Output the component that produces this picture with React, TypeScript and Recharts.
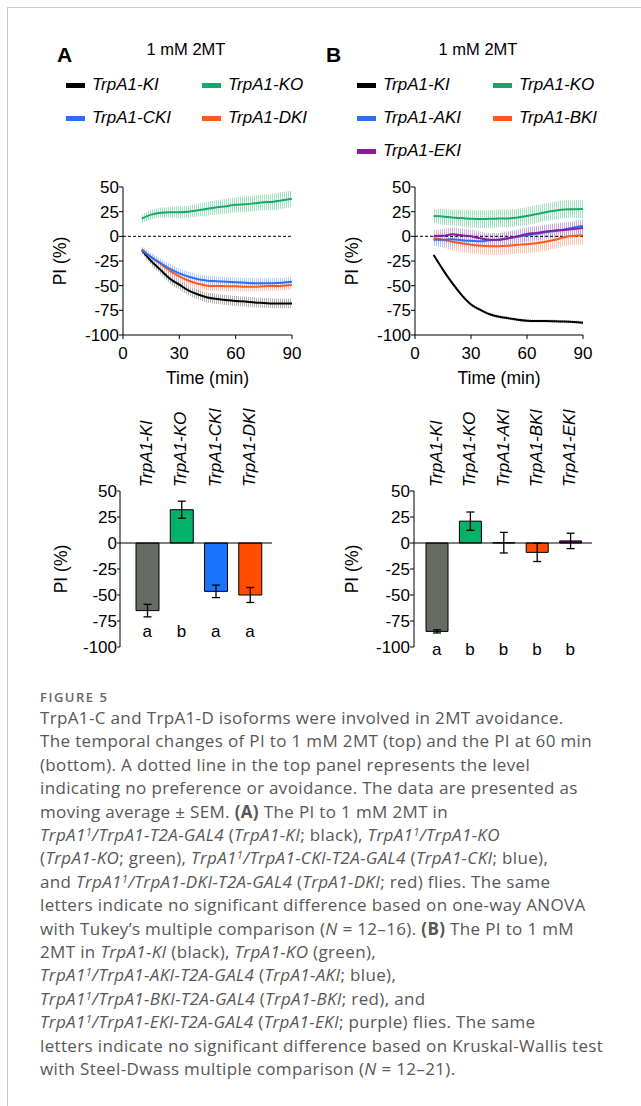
import React from 'react';
import {
  ComposedChart, Line, Area, XAxis, YAxis, ReferenceLine, Bar, ErrorBar, Cell, Label,
} from 'recharts';

// ---------- time-course data (moving average ± SEM) ----------
const TIMES = [10, 15, 20, 25, 30, 35, 40, 45, 50, 55, 60, 65, 70, 75, 80, 85, 90];

const A_KI = [-14, -25, -34, -43, -49, -55, -59, -62, -63.5, -64.5, -65.5, -66, -67, -67.5, -68, -68, -68];
const A_KI_SEM = [3, 4, 4.5, 5, 5, 5, 5, 5, 5, 5, 5, 5, 5, 5, 5, 5, 5];
const A_KO = [18, 22, 24, 24.5, 24.5, 25, 26.5, 28, 29.5, 30.5, 32, 32.5, 33.5, 34.5, 35, 36.5, 38];
const A_KO_SEM = [4, 5, 5, 5.5, 6, 6, 6.5, 7, 7, 7.5, 7.5, 8, 8, 8, 8.5, 8.5, 8.5];
const A_CKI = [-14, -21, -27, -33, -37.5, -41, -43.5, -45, -45.5, -46, -46.5, -47, -47.5, -47.5, -47.5, -47, -46];
const A_CKI_SEM = [3, 4, 4.5, 5, 5, 5, 5, 5, 5, 5, 5, 5, 5, 5, 5, 5, 5];
const A_DKI = [-13, -21, -28, -35, -40.5, -45, -48, -50, -50.3, -50.5, -50.7, -51, -51, -50.5, -50.3, -50, -49];
const A_DKI_SEM = [3, 4, 4.5, 5, 5, 5, 5, 5, 5, 5, 5, 5, 5, 5, 5, 5, 5];

const B_KI = [-19, -34, -47.5, -59.5, -69, -74.5, -79, -81.5, -83, -84.5, -85.5, -85.8, -85.8, -86, -86.3, -86.8, -87.5];
const B_KI_SEM = [1.5, 1.5, 1.5, 1.5, 1.5, 1.5, 1.5, 1.5, 1.5, 1.5, 1.5, 1.5, 1.5, 1.5, 1.5, 1.5, 1.5];
const B_KO = [20.5, 20, 19, 18.5, 17.8, 17.5, 17.8, 18, 18.2, 19, 20.5, 22.5, 24.5, 26, 27.3, 27.5, 27.7];
const B_KO_SEM = [7, 8, 8, 8.5, 9, 9, 9, 9, 9, 9, 9, 9, 9, 9, 9, 9, 9];
const B_AKI = [-3.5, -3.5, -3, -4, -4.5, -5, -4, -3.5, -2, -0.5, 1, 2.5, 4, 5.5, 7, 9, 10.5];
const B_AKI_SEM = [6, 7, 7, 7, 7, 7, 7, 7, 7, 7, 7, 7, 7, 7, 7, 7, 7];
const B_BKI = [-2, -3.5, -5.5, -7, -8.5, -9.5, -10, -10, -9.5, -8.5, -8, -7, -5.5, -3.5, -1, 0.5, 1];
const B_BKI_SEM = [6, 8, 8.5, 9, 9, 9, 9, 9, 9, 9, 9, 9, 9, 9, 9, 9, 9];
const B_EKI = [0.3, 0.5, 2, 1, 0, -2, -3.5, -3.5, -2, 0, 2.5, 3.5, 5, 6, 6.5, 7.5, 8.5];
const B_EKI_SEM = [6, 7, 7, 7, 7, 7, 7, 7, 7, 7, 7, 7, 7, 7, 7, 7, 7];

const Y_TICKS = [-100, -75, -50, -25, 0, 25, 50];
const X_TICKS = [0, 30, 60, 90];

// ---------- PI at 60 min ----------
const BAR_A_CATS = ['TrpA1-KI', 'TrpA1-KO', 'TrpA1-CKI', 'TrpA1-DKI'];
const BAR_A_VALS = [-65, 32, -46.5, -50];
const BAR_A_SEM = [6, 8.2, 6, 7.2];
const BAR_A_LETTERS = ['a', 'b', 'a', 'a'];

const BAR_B_CATS = ['TrpA1-KI', 'TrpA1-KO', 'TrpA1-AKI', 'TrpA1-BKI', 'TrpA1-EKI'];
const BAR_B_VALS = [-85, 21, 0.3, -9, 2];
const BAR_B_SEM = [1.5, 8.8, 9.9, 8.8, 7.4];
const BAR_B_LETTERS = ['a', 'b', 'b', 'b', 'b'];

// ---------- styles ----------
const FONT = '"Liberation Sans", Arial, Helvetica, sans-serif';
const TICK_FS = 17;
const C = {
  ki: '#000000', kiBand: '#9a9a9a', kiBar: '#666b63',
  ko: '#14a96b', koBand: '#86d9b3', koBar: '#00b26a',
  blue: '#2a70f5', blueBand: '#9fc0ff', blueBar: '#1a73ff',
  red: '#ff5a1c', redBand: '#ffb497', redBar: '#ff4d00',
  purple: '#8a1a99', purpleBand: '#cf9ed8', purpleBar: '#7d0c7d',
};
const BAR_A_COLORS = [C.kiBar, C.koBar, C.blueBar, C.redBar];
const BAR_B_COLORS = [C.kiBar, C.koBar, C.blueBar, C.redBar, C.purpleBar];

type Series = { key: string; name: string; vals: number[]; sem: number[]; color: string; band: string };

const SERIES_A: Series[] = [
  { key: 'ko', name: 'TrpA1-KO', vals: A_KO, sem: A_KO_SEM, color: C.ko, band: C.koBand },
  { key: 'ki', name: 'TrpA1-KI', vals: A_KI, sem: A_KI_SEM, color: C.ki, band: C.kiBand },
  { key: 'dki', name: 'TrpA1-DKI', vals: A_DKI, sem: A_DKI_SEM, color: C.red, band: C.redBand },
  { key: 'cki', name: 'TrpA1-CKI', vals: A_CKI, sem: A_CKI_SEM, color: C.blue, band: C.blueBand },
];
const SERIES_B: Series[] = [
  { key: 'ko', name: 'TrpA1-KO', vals: B_KO, sem: B_KO_SEM, color: C.ko, band: C.koBand },
  { key: 'bki', name: 'TrpA1-BKI', vals: B_BKI, sem: B_BKI_SEM, color: C.red, band: C.redBand },
  { key: 'aki', name: 'TrpA1-AKI', vals: B_AKI, sem: B_AKI_SEM, color: C.blue, band: C.blueBand },
  { key: 'eki', name: 'TrpA1-EKI', vals: B_EKI, sem: B_EKI_SEM, color: C.purple, band: C.purpleBand },
  { key: 'ki', name: 'TrpA1-KI', vals: B_KI, sem: B_KI_SEM, color: C.ki, band: C.kiBand },
];

function buildRows(series: Series[]) {
  return TIMES.map((t, i) => {
    const row: any = { t };
    series.forEach((s) => {
      row[s.key] = s.vals[i];
      row[s.key + 'Band'] = [s.vals[i] - s.sem[i], s.vals[i] + s.sem[i]];
    });
    return row;
  });
}

const yLabelContent = (dist: number) => (props: any) => {
  const vb = props.viewBox || {};
  const cx = vb.x + vb.width - dist;
  const cy = vb.y + vb.height / 2;
  return (
    <text x={cx} y={cy} transform={`rotate(-90, ${cx}, ${cy})`} textAnchor="middle" dy="0.3em"
      fontSize={17.5} fontFamily={FONT} fill="#000">PI (%)</text>
  );
};

const xLabelContent = (props: any) => {
  const vb = props.viewBox || {};
  return (
    <text x={vb.x + vb.width / 2} y={vb.y + 49} textAnchor="middle" fontSize={17.5} fontFamily={FONT} fill="#000">
      Time (min)
    </text>
  );
};

function TimeCourse({ series, prefix, width, height, margin }: { series: Series[]; prefix: string; width: number; height: number; margin: any }) {
  const rows = buildRows(series);
  return (
    <ComposedChart width={width} height={height} data={rows} margin={margin}>
      <defs>
        {series.map((s) => (
          <pattern key={s.key} id={`${prefix}-${s.key}`} patternUnits="userSpaceOnUse" width={2} height={4}>
            <rect x={0} y={0} width={1} height={4} fill={s.band} fillOpacity={0.75} />
          </pattern>
        ))}
      </defs>
      <XAxis type="number" dataKey="t" domain={[0, 90]} ticks={X_TICKS} allowDataOverflow interval={0}
        stroke="#000" tickSize={4} tickMargin={8}
        tick={{ fill: '#000', fontSize: TICK_FS, fontFamily: FONT }} height={56}>
        <Label content={xLabelContent} />
      </XAxis>
      <YAxis type="number" domain={[-100, 50]} ticks={Y_TICKS} allowDataOverflow width={60} interval={0}
        stroke="#000" tickSize={4} tickMargin={0}
        tick={{ fill: '#000', fontSize: TICK_FS, fontFamily: FONT }}>
        <Label content={yLabelContent(62)} />
      </YAxis>
      {series.map((s) => (
        <Area key={s.key + 'Band'} dataKey={s.key + 'Band'} type="monotone" stroke="none"
          fill={`url(#${prefix}-${s.key})`} fillOpacity={1} isAnimationActive={false} dot={false} activeDot={false} />
      ))}
      <ReferenceLine y={0} stroke="#000" strokeDasharray="3 2" strokeWidth={1} />
      {series.map((s) => (
        <Line key={s.key} dataKey={s.key} type="monotone" stroke={s.color} strokeWidth={2}
          dot={false} activeDot={false} isAnimationActive={false} />
      ))}
    </ComposedChart>
  );
}

const NameTick = (props: any) => {
  const { x, y, payload } = props;
  return (
    <text x={x} y={y} transform={`rotate(-90, ${x}, ${y})`} textAnchor="start" dy="0.3em"
      fontSize={17} fontStyle="italic" fontFamily={FONT} fill="#000">{payload.value}</text>
  );
};

const letterTick = (letters: string[], dy: number) => (props: any) => {
  const { x, y, payload, index } = props;
  const i = typeof index === 'number' ? index : payload.index;
  return (
    <text x={x} y={y + dy} textAnchor="middle" fontSize={17} fontFamily={FONT} fill="#000">{letters[i]}</text>
  );
};

function BarPanel({ cats, vals, sem, letters, colors, width, height, margin, padding, barSize, letterDy, labelDist, tickSize }: any) {
  const rows = cats.map((c: string, i: number) => ({ name: c, pi: vals[i], sem: sem[i] }));
  return (
    <ComposedChart width={width} height={height} data={rows} margin={margin}>
      <XAxis xAxisId="top" orientation="top" dataKey="name" type="category" height={85} interval={0}
        padding={padding} axisLine={false} tickLine={false} tickSize={0} tickMargin={4} tick={<NameTick />} />
      <XAxis xAxisId="bottom" orientation="bottom" dataKey="name" type="category" height={20} interval={0}
        padding={padding} axisLine={false} tickLine={false} tickSize={0} tickMargin={0}
        tick={letterTick(letters, letterDy)} />
      <YAxis type="number" domain={[-100, 50]} ticks={Y_TICKS} allowDataOverflow width={56} interval={0}
        stroke="#000" tickSize={tickSize} tickMargin={0}
        tick={{ fill: '#000', fontSize: TICK_FS, fontFamily: FONT }}>
        <Label content={yLabelContent(labelDist)} />
      </YAxis>
      <ReferenceLine y={0} xAxisId="top" stroke="#000" strokeWidth={1} />
      <Bar xAxisId="top" dataKey="pi" barSize={barSize} stroke="#000" strokeWidth={1} isAnimationActive={false}>
        {rows.map((r: any, i: number) => (
          <Cell key={r.name} fill={colors[i]} />
        ))}
        <ErrorBar dataKey="sem" width={4} stroke="#000" strokeWidth={1.3} direction="y" />
      </Bar>
    </ComposedChart>
  );
}

const abs = (left: number, top: number, extra: any = {}) => ({ position: 'absolute' as const, left, top, ...extra });

function LegendItem({ x, y, color, name }: { x: number; y: number; color: string; name: string }) {
  return (
    <>
      <div style={abs(x, y - 2.5, { width: 19, height: 5, background: color })} />
      <div style={abs(x + 26, y - 10, { lineHeight: '20px', fontSize: 17, fontStyle: 'italic', fontFamily: FONT, whiteSpace: 'nowrap', color: '#000' })}>{name}</div>
    </>
  );
}

const I = ({ children }: any) => <i>{children}</i>;
const T1 = () => <><i>TrpA1</i><sup style={{ fontSize: '0.65em', fontStyle: 'italic', verticalAlign: '0.45em', lineHeight: 0 }}>1</sup></>;

const CAPTION_LINES: React.ReactNode[] = [
  <>TrpA1-C and TrpA1-D isoforms were involved in 2MT avoidance.</>,
  <>The temporal changes of PI to 1 mM 2MT (top) and the PI at 60 min</>,
  <>(bottom). A dotted line in the top panel represents the level</>,
  <>indicating no preference or avoidance. The data are presented as</>,
  <>moving average ± SEM. <b>(A)</b> The PI to 1 mM 2MT in</>,
  <><T1 /><I>/TrpA1-T2A-GAL4</I> (<I>TrpA1-KI</I>; black), <T1 /><I>/TrpA1-KO</I></>,
  <>(<I>TrpA1-KO</I>; green), <T1 /><I>/TrpA1-CKI-T2A-GAL4</I> (<I>TrpA1-CKI</I>; blue),</>,
  <>and <T1 /><I>/TrpA1-DKI-T2A-GAL4</I> (<I>TrpA1-DKI</I>; red) flies. The same</>,
  <>letters indicate no significant difference based on one-way ANOVA</>,
  <>with Tukey’s multiple comparison (<I>N</I> = 12–16). <b>(B)</b> The PI to 1 mM</>,
  <>2MT in <I>TrpA1-KI</I> (black), <I>TrpA1-KO</I> (green),</>,
  <><T1 /><I>/TrpA1-AKI-T2A-GAL4</I> (<I>TrpA1-AKI</I>; blue),</>,
  <><T1 /><I>/TrpA1-BKI-T2A-GAL4</I> (<I>TrpA1-BKI</I>; red), and</>,
  <><T1 /><I>/TrpA1-EKI-T2A-GAL4</I> (<I>TrpA1-EKI</I>; purple) flies. The same</>,
  <>letters indicate no significant difference based on Kruskal-Wallis test</>,
  <>with Steel-Dwass multiple comparison (<I>N</I> = 12–21).</>,
];

export default function App() {
  const txt = { fontFamily: FONT, fontSize: 16.5, lineHeight: '20px', color: '#000', whiteSpace: 'nowrap' as const };
  return (
    <div style={{ position: 'absolute', left: 0, top: 0, width: 641, height: 1106, background: '#fff', overflow: 'hidden' }}>
      <div style={abs(7, 7, { width: 700, height: 1200, borderLeft: '1px solid #c9c9c9', borderTop: '1px solid #c9c9c9' })} />

      {/* Panel A header */}
      <div style={abs(57, 45, { ...txt, fontSize: 21, fontWeight: 700 })}>A</div>
      <div style={abs(126, 39, { ...txt, width: 120, textAlign: 'center' })}>1 mM 2MT</div>
      <LegendItem x={66} y={85} color={C.ki} name="TrpA1-KI" />
      <LegendItem x={202} y={85} color={C.ko} name="TrpA1-KO" />
      <LegendItem x={66} y={118} color={C.blue} name="TrpA1-CKI" />
      <LegendItem x={202} y={118} color={C.red} name="TrpA1-DKI" />

      {/* Panel B header */}
      <div style={abs(326, 45, { ...txt, fontSize: 21, fontWeight: 700 })}>B</div>
      <div style={abs(418, 39, { ...txt, width: 120, textAlign: 'center' })}>1 mM 2MT</div>
      <LegendItem x={357} y={85} color={C.ki} name="TrpA1-KI" />
      <LegendItem x={493} y={85} color={C.ko} name="TrpA1-KO" />
      <LegendItem x={357} y={118} color={C.blue} name="TrpA1-AKI" />
      <LegendItem x={493} y={118} color={C.red} name="TrpA1-BKI" />
      <LegendItem x={357} y={151} color={C.purple} name="TrpA1-EKI" />

      {/* Time courses */}
      <div style={abs(40, 170)}>
        <TimeCourse series={SERIES_A} prefix="hA" width={270} height={230}
          margin={{ top: 17, right: 18, bottom: 9, left: 23 }} />
      </div>
      <div style={abs(320, 170)}>
        <TimeCourse series={SERIES_B} prefix="hB" width={290} height={230}
          margin={{ top: 17, right: 27, bottom: 9, left: 35 }} />
      </div>

      {/* PI at 60 min */}
      <div style={abs(40, 400)}>
        <BarPanel cats={BAR_A_CATS} vals={BAR_A_VALS} sem={BAR_A_SEM} letters={BAR_A_LETTERS} colors={BAR_A_COLORS}
          width={260} height={270} margin={{ top: 6, right: 28, bottom: 3, left: 24 }}
          padding={{ left: 10, right: 5 }} barSize={23} letterDy={-10} labelDist={58} tickSize={3} />
      </div>
      <div style={abs(320, 400)}>
        <BarPanel cats={BAR_B_CATS} vals={BAR_B_VALS} sem={BAR_B_SEM} letters={BAR_B_LETTERS} colors={BAR_B_COLORS}
          width={290} height={270} margin={{ top: 6, right: 18, bottom: 3, left: 38 }}
          padding={{ left: 6, right: 5 }} barSize={22} letterDy={8} labelDist={61} tickSize={4} />
      </div>

      {/* Caption */}
      <div style={abs(40, 689, { fontFamily: '"Open Sans", sans-serif', fontSize: 13, fontWeight: 600, color: '#666', lineHeight: '16px', letterSpacing: 1.5 })}>FIGURE 5</div>
      <div style={abs(40, 706, { fontFamily: '"Open Sans", sans-serif', fontSize: 17, color: '#575757', lineHeight: '23.4px', letterSpacing: 0.35 })}>
        {CAPTION_LINES.map((l, i) => (
          <div key={i} style={{ whiteSpace: 'nowrap' }}>{l}</div>
        ))}
      </div>
    </div>
  );
}
